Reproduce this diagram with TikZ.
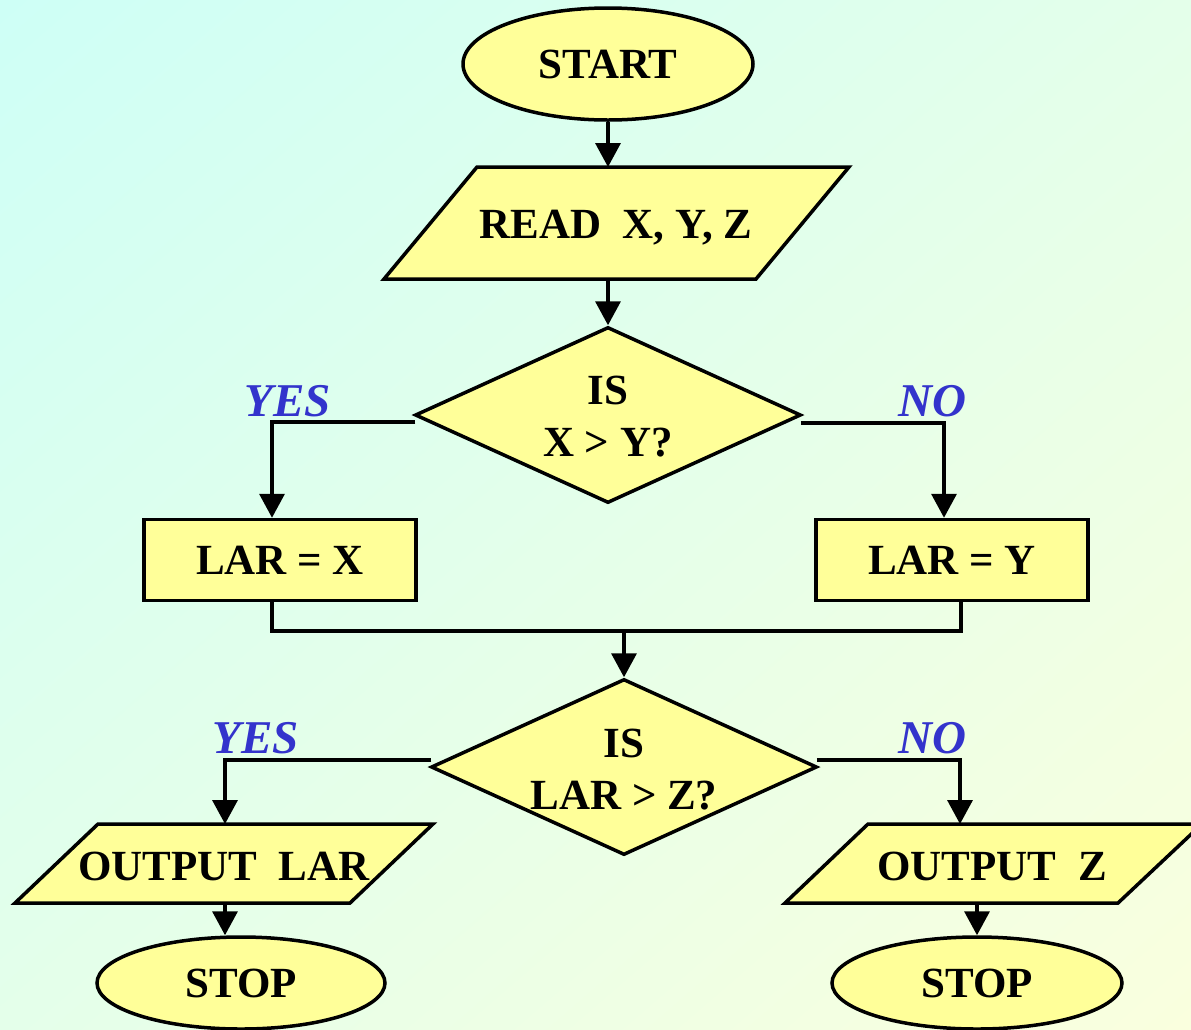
\documentclass[tikz,border=0pt]{standalone}
\usepackage{fontspec}
\setmainfont{Liberation Serif}
\usetikzlibrary{shapes.geometric,arrows.meta,calc,shadings}
\definecolor{bgA}{RGB}{206,255,246}
\definecolor{bgB}{RGB}{250,255,222}
\definecolor{bgC}{RGB}{228,255,234}
\definecolor{boxfill}{RGB}{255,255,153}
\definecolor{lblue}{RGB}{51,51,204}
\tikzset{
  shp/.style={draw=black, line width=3.5pt, fill=boxfill, line join=miter},
  txt/.style={font=\fontsize{43}{52}\selectfont\bfseries, align=center, inner sep=0pt},
  term/.style={shp, ellipse, inner sep=0pt, txt},
  proc/.style={shp, rectangle, minimum width=272pt, minimum height=81pt, txt},
  dec/.style={shp, diamond, minimum width=386pt, minimum height=176pt, inner sep=0pt},
  lbl/.style={font=\fontsize{47}{52}\selectfont\bfseries\itshape, text=lblue, inner sep=0pt},
  conn/.style={line width=3.5pt, -{Triangle[length=24pt,width=25pt]}},
  wire/.style={line width=3.5pt},
}
\begin{document}
\begin{tikzpicture}[x=1pt,y=-1pt]
\useasboundingbox (0,0) rectangle (1191,1029);
\shade[upper left=bgA, upper right=bgC, lower left=bgC, lower right=bgB] (0,0) rectangle (1191,1029);

% START
\node[term, minimum width=290pt, minimum height=112pt] (start) at (608,64) {START};

% READ parallelogram
\draw[shp] (477,167) -- (849,167) -- (756,279) -- (384,279) -- cycle;
\coordinate (readtop) at (608,167);
\coordinate (readbot) at (608,279);
\node[txt] (read) at (616,228) {READ~~X, Y, Z};

% Decision 1
\node[dec] (d1) at (608,415) {};
\node[txt] (d1t) at (608,417) {IS\\X > Y?};

% Boxes
\node[proc] (lx) at (280,560) {LAR = X};
\node[proc] (ly) at (952,560) {LAR = Y};

% Decision 2
\node[dec] (d2) at (624,767) {};
\node[txt] (d2t) at (624,770) {IS\\LAR > Z?};

% Output parallelograms
\draw[shp] (98,824) -- (433,824) -- (350,903) -- (15,903) -- cycle;
\coordinate (olt) at (225,824);
\coordinate (olb) at (225,903);
\node[txt] (outl) at (224,866) {OUTPUT~~LAR};

\draw[shp] (868,824) -- (1202,824) -- (1118,903) -- (785,903) -- cycle;
\coordinate (ort) at (960,824);
\coordinate (orb) at (977,903);
\node[txt] (outr) at (992,866) {OUTPUT~~Z};

% STOP
\node[term, minimum width=288pt, minimum height=92pt] (stopl) at (241,983) {STOP};
\node[term, minimum width=290pt, minimum height=92pt] (stopr) at (977,983) {STOP};

% Labels
\node[lbl] (yes1) at (288,401) {YES};
\node[lbl] (no1) at (932,401) {NO};
\node[lbl] (yes2) at (256,738) {YES};
\node[lbl] (no2) at (932,738) {NO};

% Connectors
\draw[conn] (start.south) -- (readtop);
\draw[conn] (readbot) -- (d1.north);
\draw[conn] ($(d1.west)+(2,7)$) -| ($(lx.north)+(-8,0)$);
\draw[conn] ($(d1.east)+(-2,8)$) -| ($(ly.north)+(-8,0)$);
\coordinate (jl) at (272,631);
\coordinate (jr) at (961,631);
\draw[wire] (jl |- lx.south) -- (jl) -- (jr) -- (jr |- ly.south);
\draw[conn] (d2.north |- jl) -- (d2.north);
\draw[conn] ($(d2.west)+(2,-7)$) -| (olt);
\draw[conn] ($(d2.east)+(-2,-7)$) -| (ort);
\draw[conn] (olb) -- (stopl.north -| olb);
\draw[conn] (orb) -- (stopr.north);
\end{tikzpicture}
\end{document}
